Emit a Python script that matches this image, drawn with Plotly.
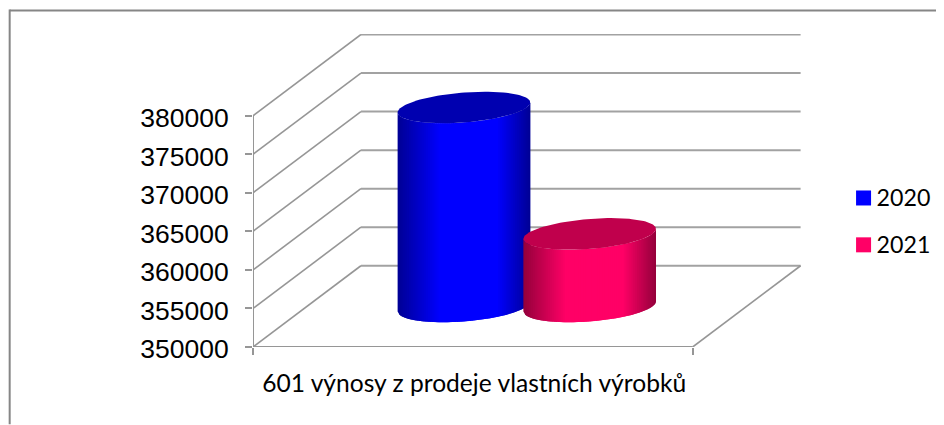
import numpy as np
import plotly.graph_objects as go

# --- data ---
category = "601 výnosy z prodeje vlastních výrobků"
years = ["2020", "2021"]
values = [375800, 359400]
y_ticks = [350000, 355000, 360000, 365000, 370000, 375000, 380000]
body_rgb = [(0, 0, 255), (255, 0, 102)]
top_rgb = [(0, 0, 176), (192, 0, 76)]

PAGE = 8                                    # the page's own margin round the figure
W, H = 944 - PAGE, 425 - PAGE
L, R, T, B = 252.5 - PAGE, 944 - PAGE, 33.5 - PAGE, 347.5 - PAGE   # plot box
FRONT_W = 440.0                             # px width of floor front edge
PX_PER_UNIT = (347.5 - 115.5) / 30000.0
DEPTH_X = 108.0 / FRONT_W                   # depth offset, x in category units
DEPTH_Y = 81.5 / PX_PER_UNIT                # depth offset, in value units
x_hi = (R - L) / FRONT_W
wall_end = 1 + DEPTH_X
y_lo, y_hi = y_ticks[0], y_ticks[0] + (B - T) / PX_PER_UNIT

GRID = "#969696"
fig = go.Figure()


def line(xs, ys, width=1.6, color=GRID):
    fig.add_trace(go.Scatter(x=xs, y=ys, mode="lines", showlegend=False, hoverinfo="skip",
                             line=dict(color=color, width=width), cliponaxis=False))


# walls
for v in y_ticks:
    line([0, DEPTH_X], [v, v + DEPTH_Y])
    line([DEPTH_X, wall_end], [v + DEPTH_Y, v + DEPTH_Y], width=2, color="#a2a2a2")
line([0, 0], [y_ticks[0], y_ticks[-1]], width=2)
line([0, 1], [y_ticks[0], y_ticks[0]], width=2)
line([1, wall_end], [y_ticks[0], y_ticks[0] + DEPTH_Y])

# cylinders
n = len(values)
gap = 0.214
half = (1 - 2 * gap) / n / 2                # half width along front edge
r_depth = 0.195                             # half depth, fraction of floor depth
depth_mid = 0.5
A = half
Bx = r_depth * DEPTH_X
Cy = r_depth * DEPTH_Y
t0 = np.arctan2(Bx, A)


def shade(rgb, f):
    # dark at both edges, full colour across the middle
    k = min(1.0, 0.58 + 0.42 * min(f / 0.32, (1 - f) / 0.25))
    return "rgb(%d,%d,%d)" % tuple(round(c * k) for c in rgb)


for i, (yr, val) in enumerate(zip(years, values)):
    cu = gap + half * (2 * i + 1) + depth_mid * DEPTH_X
    base = y_ticks[0] + depth_mid * DEPTH_Y
    top = val + depth_mid * DEPTH_Y

    def front(f):
        # f=0 left silhouette ... f=1 right silhouette, along the front half
        t = -np.arccos(2 * f - 1) + t0
        return cu + A * np.cos(t) + Bx * np.sin(t), Cy * np.sin(t)

    strips = 70
    fs = np.linspace(0, 1, strips + 1)
    for a, b in zip(fs[:-1], fs[1:]):
        # each strip runs on under the next one, so no seams show
        sub = np.linspace(a, min(b + 1.0 / strips, 1), 5)
        xs, ds = front(sub)
        px = list(xs) + list(xs[::-1])
        py = list(base + ds) + list((top + ds)[::-1])
        fig.add_trace(go.Scatter(x=px, y=py, mode="lines", fill="toself",
                                 fillcolor=shade(body_rgb[i], (a + b) / 2),
                                 line=dict(width=0), showlegend=False, hoverinfo="skip"))
    t = np.linspace(0, 2 * np.pi, 121)
    fig.add_trace(go.Scatter(x=cu + A * np.cos(t) + Bx * np.sin(t), y=top + Cy * np.sin(t),
                             mode="lines", fill="toself",
                             fillcolor="rgb(%d,%d,%d)" % top_rgb[i], line=dict(width=0),
                             showlegend=False, hoverinfo="skip"))

# legend keys and their labels, placed from the same axes
key_x = (863.5 - PAGE - L) / FRONT_W
text_x = (876.5 - PAGE - L) / FRONT_W
for i, yr in enumerate(years):
    key_y = y_ticks[0] + (347.5 - (198 + 47 * i)) / PX_PER_UNIT
    text_y = key_y - 2 / PX_PER_UNIT
    fig.add_trace(go.Scatter(x=[key_x], y=[key_y], mode="markers", name=yr,
                             cliponaxis=False, hoverinfo="name",
                             marker=dict(symbol="square", size=15,
                                         color="rgb(%d,%d,%d)" % body_rgb[i])))
    fig.add_trace(go.Scatter(x=[text_x], y=[text_y], mode="text", text=[yr], name=yr,
                             textposition="middle right", cliponaxis=False, hoverinfo="skip",
                             textfont=dict(family="Lato", size=23.2, color="black")))

# frame: top and left edges
fx = lambda p: (p - PAGE - L) / (R - L)
fy = lambda p: (B - (p - PAGE)) / (B - T)
fig.add_shape(type="line", xref="paper", yref="paper", x0=fx(9), x1=fx(944), y0=fy(10), y1=fy(10),
              line=dict(color="#868686", width=2))
fig.add_shape(type="line", xref="paper", yref="paper", x0=fx(9), x1=fx(9), y0=fy(9), y1=fy(425),
              line=dict(color="#868686", width=2))

fig.update_layout(
    width=W, height=H, autosize=False, showlegend=False,
    margin=dict(l=L, r=W - R, t=T, b=H - B, autoexpand=False),
    paper_bgcolor="white", plot_bgcolor="white",
    xaxis=dict(range=[0, x_hi], showgrid=False, zeroline=False, showline=False,
               tickmode="array", tickvals=[0.503], ticktext=[category], ticks="", ticklen=0,
               tickfont=dict(family="Lato", size=24.6, color="black"), ticklabelstandoff=19,
               minor=dict(tickmode="array", tickvals=[0, 1], ticks="outside", ticklen=7,
                          tickcolor=GRID, tickwidth=1.6, showgrid=False)),
    yaxis=dict(range=[y_lo, y_hi], showgrid=False, zeroline=False, showline=False,
               tickmode="array", tickvals=y_ticks, ticktext=[str(v) for v in y_ticks],
               ticks="outside", ticklen=7, tickcolor=GRID, tickwidth=1.6, ticklabelstandoff=11,
               ticklabelshift=2,
               tickfont=dict(family="Liberation Sans", size=26.5, color="black")),
)
fig.write_html("out.html")
